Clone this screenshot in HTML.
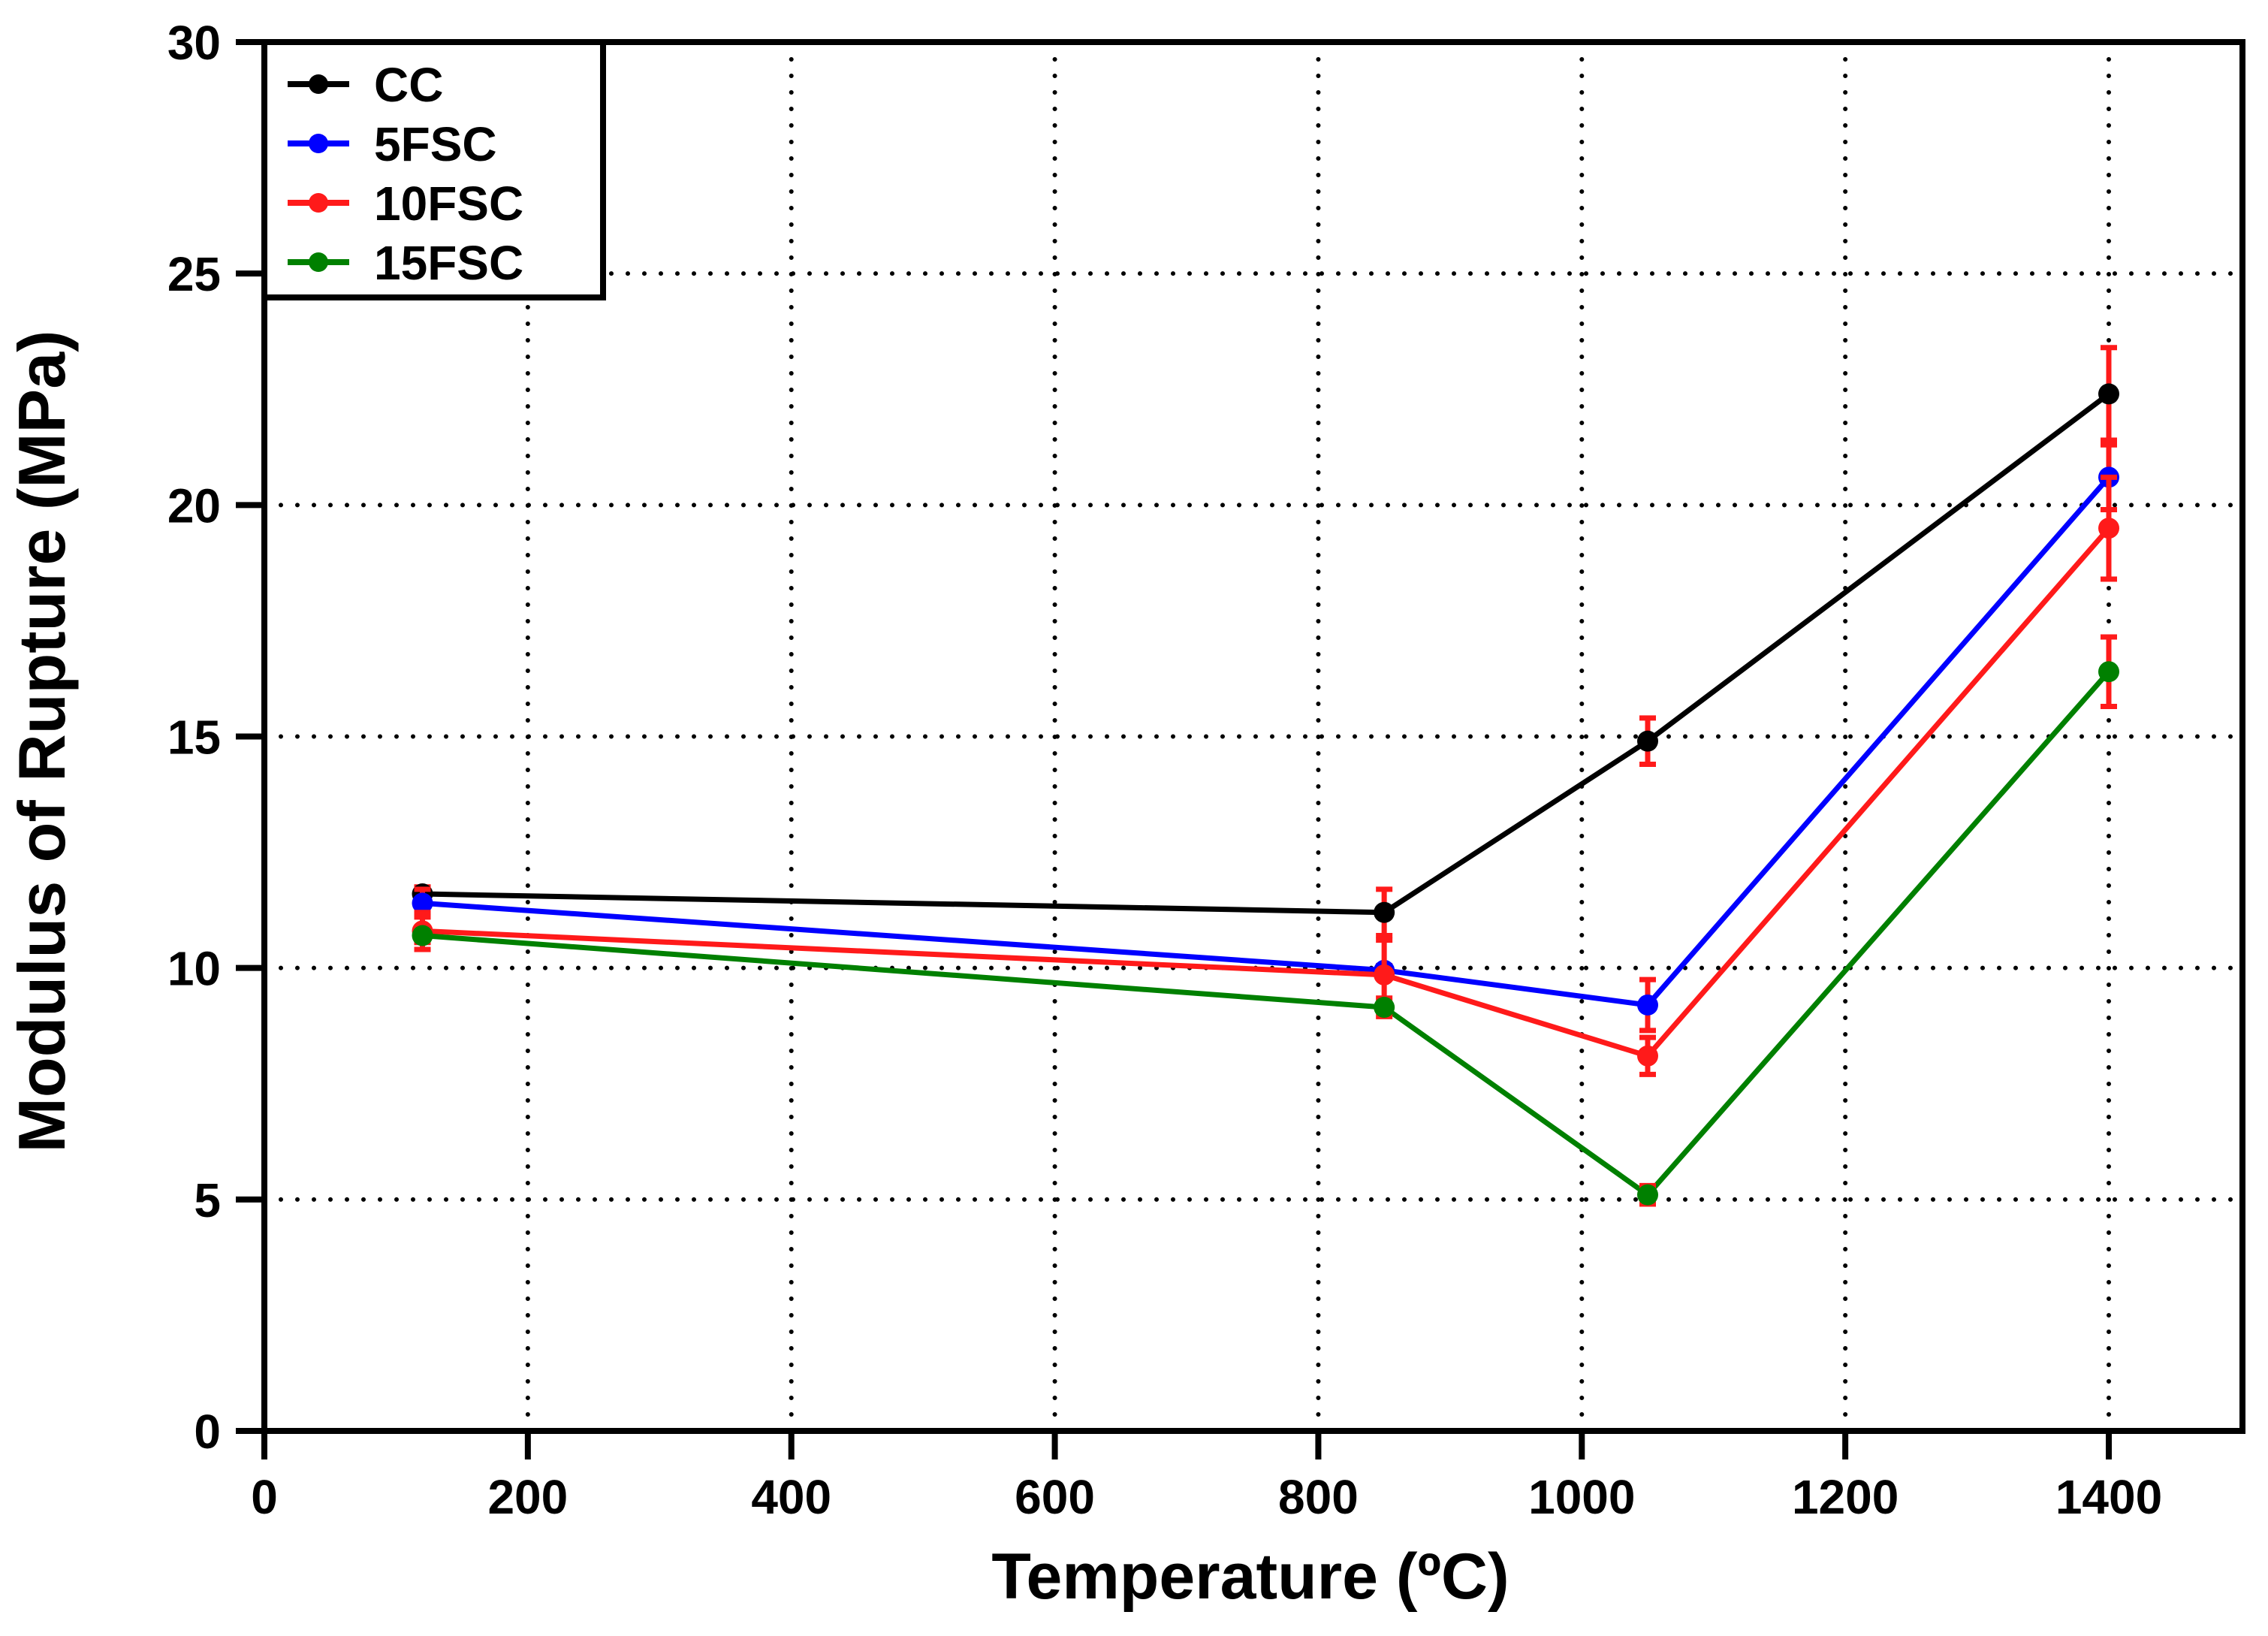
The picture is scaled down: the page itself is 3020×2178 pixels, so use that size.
<!DOCTYPE html>
<html><head><meta charset="utf-8"><style>
body{margin:0;background:#fff}
svg{display:block;font-family:"Liberation Sans",sans-serif;font-weight:bold}
</style></head><body>
<svg id="chart" width="3020" height="2178" viewBox="0 0 3020 2178" xmlns="http://www.w3.org/2000/svg">
<g id="grid"></g>
<g id="axes"></g>
<g id="series"></g>
<text x="1665" y="2128" text-anchor="middle" font-size="86">Temperature (ºC)</text>
<text transform="translate(86,987) rotate(-90)" text-anchor="middle" font-size="88">Modulus of Rupture (MPa)</text>
<g id="legend"></g>
</svg>
<script>
const temps=[120,850,1050,1400];
const seriesNames=["CC","5FSC","10FSC","15FSC"];
const seriesColors=["#000000","#0000ff","#ff1a1a","#008000"];
const ccValues=[11.6,11.2,14.9,22.4];
const fsc5Values=[11.4,9.95,9.2,20.6];
const fsc10Values=[10.8,9.85,8.1,19.5];
const fsc15Values=[10.7,9.15,5.1,16.4];
const ccErr=[0.15,0.5,0.5,1.0];
const fsc5Err=[0.3,0.1,0.55,0.7];
const fsc10Err=[0.4,0.75,0.4,1.1];
const fsc15Err=[0.15,0.2,0.2,0.75];
const xTicks=[0,200,400,600,800,1000,1200,1400];
const yTicks=[0,5,10,15,20,25,30];
const NS="http://www.w3.org/2000/svg";
const L=352,R=2986,T=56,B=1905;
function xs(v){return L+v*(2808-L)/1400;}
function ys(v){return B-v*(B-T)/30;}
function mk(tag,attrs,parent){const e=document.createElementNS(NS,tag);for(const k in attrs)e.setAttribute(k,attrs[k]);parent.appendChild(e);return e;}
const grid=document.getElementById('grid'),axes=document.getElementById('axes'),ser=document.getElementById('series'),leg=document.getElementById('legend');
xTicks.forEach(t=>{if(t>0){const g=mk('line',{x1:xs(t),x2:xs(t),y1:B,y2:T,stroke:'#000','stroke-width':6,'stroke-dasharray':'0 22','stroke-linecap':'round'},grid);

}
const tk=mk('line',{x1:xs(t),x2:xs(t),y1:B,y2:B+38,stroke:'#000','stroke-width':8},axes);


const lb=mk('text',{x:xs(t),y:B+110,'text-anchor':'middle','font-size':64},axes);lb.textContent=t;

});
yTicks.forEach(t=>{if(t>0&&t<30){const g=mk('line',{x1:L,x2:R,y1:ys(t),y2:ys(t),stroke:'#000','stroke-width':6,'stroke-dasharray':'0 22','stroke-linecap':'round'},grid);

}
const tk=mk('line',{x1:L-38,x2:L,y1:ys(t),y2:ys(t),stroke:'#000','stroke-width':8},axes);


const lb=mk('text',{x:L-58,y:ys(t)+23,'text-anchor':'end','font-size':64},axes);lb.textContent=t;

});
const frame=mk('rect',{x:L,y:T,width:R-L,height:B-T,fill:'none',stroke:'#000','stroke-width':8},axes);


const allVals=[ccValues,fsc5Values,fsc10Values,fsc15Values];
const allErr=[ccErr,fsc5Err,fsc10Err,fsc15Err];
allVals.forEach((vals,si)=>{
const pts=vals.map((v,i)=>xs(temps[i])+','+ys(v)).join(' ');
const pl=mk('polyline',{points:pts,fill:'none',stroke:seriesColors[si],'stroke-width':7},ser);


});
allVals.forEach((vals,si)=>{
vals.forEach((v,i)=>{const x=xs(temps[i]),e=allErr[si][i];
const eb=mk('path',{d:`M${x},${ys(v-e)}V${ys(v+e)}M${x-11},${ys(v-e)}H${x+11}M${x-11},${ys(v+e)}H${x+11}`,stroke:'#ff1a1a','stroke-width':7,fill:'none'},ser);


const c=mk('circle',{cx:x,cy:ys(v),r:14,fill:seriesColors[si]},ser);

});
});
const box=mk('rect',{x:L,y:T,width:451,height:340,fill:'#fff',stroke:'#000','stroke-width':8},leg);


seriesNames.forEach((n,i)=>{const y=112+i*79;
const ln=mk('line',{x1:383,x2:465,y1:y,y2:y,stroke:seriesColors[i],'stroke-width':8},leg);


const c=mk('circle',{cx:424,cy:y,r:13,fill:seriesColors[i]},leg);


const t=mk('text',{x:498,y:y+23,'font-size':64},leg);t.textContent=n;

});
</script>
</body></html>
